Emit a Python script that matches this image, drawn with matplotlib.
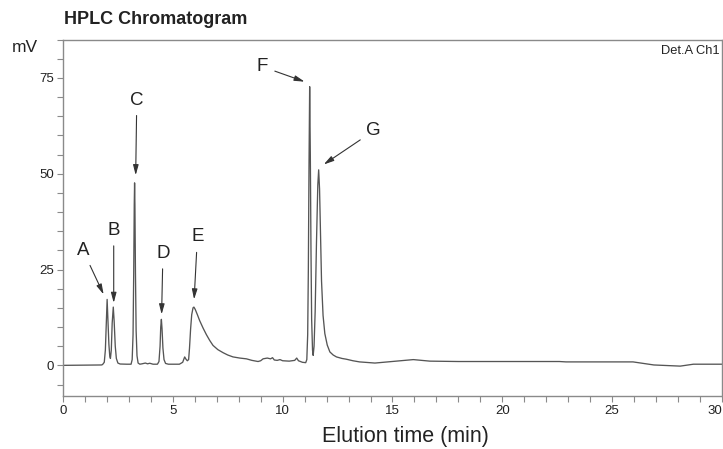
import matplotlib
matplotlib.use("Agg")
import matplotlib.pyplot as plt
from matplotlib.ticker import MultipleLocator

plt.rcParams['font.family'] = ['Liberation Sans', 'DejaVu Sans']

# chromatogram trace (min, mV)
time_min = [0.0, 1.0, 1.75, 1.80, 1.88, 1.93, 1.97, 2.01, 2.05, 2.09, 2.13, 2.16,
            2.20, 2.24, 2.29, 2.33, 2.38, 2.43, 2.50, 2.60, 2.90, 3.10, 3.15, 3.19,
            3.22, 3.245, 3.26, 3.275, 3.30, 3.33, 3.37, 3.42, 3.50, 3.60, 3.75, 3.85,
            3.95, 4.10, 4.30, 4.37, 4.42, 4.45, 4.48, 4.51, 4.55, 4.60, 4.67, 4.80,
            5.30, 5.45, 5.54, 5.60, 5.66, 5.72, 5.76, 5.81, 5.86, 5.92, 5.96, 6.02,
            6.12, 6.22, 6.38, 6.53, 6.68, 6.83, 7.05, 7.29, 7.50, 7.74, 8.05, 8.35,
            8.60, 8.88, 9.00, 9.11, 9.30, 9.45, 9.54, 9.62, 9.75, 9.88, 10.00, 10.30,
            10.55, 10.64, 10.72, 10.90, 11.05, 11.10, 11.14, 11.17, 11.20, 11.23, 11.26,
            11.29, 11.32, 11.36, 11.39, 11.43, 11.48, 11.54, 11.60, 11.64, 11.68, 11.73,
            11.77, 11.84, 11.92, 12.03, 12.15, 12.30, 12.45, 12.70, 12.90, 13.20, 13.50,
            14.20, 15.00, 15.95, 16.70, 18.00, 22.60, 22.90, 25.95, 26.30, 26.90, 28.10,
            28.70, 30.0]
signal_mv = [0.0, 0.05, 0.1, 0.2, 0.8, 4.0, 11.0, 17.2, 11.5, 5.5, 2.4, 1.8,
             4.0, 11.0, 15.2, 11.5, 5.0, 1.8, 0.6, 0.35, 0.3, 0.3, 1.5, 8.0,
             24.0, 42.0, 47.6, 42.0, 24.0, 9.0, 2.5, 0.6, 0.3, 0.4, 0.6, 0.4,
             0.55, 0.3, 0.3, 1.0, 5.0, 10.0, 12.0, 9.5, 4.5, 1.5, 0.5, 0.3,
             0.3, 0.8, 2.2, 1.6, 1.2, 1.5, 4.5, 9.5, 13.2, 15.0, 15.2, 14.6,
             13.2, 11.7, 9.7, 8.0, 6.5, 5.2, 4.1, 3.3, 2.7, 2.2, 1.9, 1.7,
             1.3, 1.0, 1.2, 1.7, 1.9, 1.7, 2.0, 1.4, 1.3, 1.5, 1.2, 1.1,
             1.3, 1.9, 1.2, 0.8, 0.7, 1.5, 8.0, 25.0, 52.0, 72.7, 55.0,
             30.0, 12.0, 4.0, 2.6, 5.0, 14.0, 32.0, 47.0, 51.0, 46.0, 33.0,
             22.0, 13.0, 8.3, 5.3, 3.5, 2.7, 2.2, 1.8, 1.6, 1.2, 0.9,
             0.6, 1.0, 1.5, 1.1, 1.0, 1.0, 0.9, 0.9, 0.6, 0.1, -0.2,
             0.3, 0.3]

x_ticks = [0, 5, 10, 15, 20, 25, 30]
y_ticks = [0, 25, 50, 75]

# peak labels: letter, arrow tip, text position (data coords)
peak_names = ['A', 'B', 'C', 'D', 'E', 'F', 'G']
tip_xy = [(1.85, 18.5), (2.31, 16.3), (3.31, 49.6), (4.49, 13.3),
          (5.97, 17.2), (11.0, 74.0), (11.87, 52.4)]
text_xy = [(0.91, 30.0), (2.31, 35.2), (3.36, 69.2), (4.55, 29.2),
           (6.12, 33.5), (9.08, 77.9), (14.15, 61.2)]

fig = plt.figure(figsize=(7.23, 4.49), dpi=100)
ax = fig.add_axes([0.0871, 0.118, 0.9115, 0.794])

ax.plot(time_min, signal_mv, color='#555555', lw=0.95)

for name, tip, txt in zip(peak_names, tip_xy, text_xy):
    ax.annotate(name, xy=tip, xytext=txt, fontsize=13.5, color='#222222',
                ha='center', va='center',
                arrowprops=dict(arrowstyle='-|>,head_length=0.45,head_width=0.12',
                                color='#333333', lw=0.8, shrinkA=3, shrinkB=0))

ax.set_xlim(0, 30)
ax.set_ylim(-8, 85)
ax.set_xticks(x_ticks)
ax.xaxis.set_minor_locator(MultipleLocator(1))
ax.set_yticks(y_ticks)
ax.yaxis.set_minor_locator(MultipleLocator(5))

for s in ax.spines.values():
    s.set_color('#8a8a8a')
    s.set_linewidth(1.0)
ax.tick_params(which='both', direction='out', length=4.5, width=0.8,
               color='#8a8a8a', pad=2, labelsize=9.5, labelcolor='#222222')
xlabels = ax.set_xticklabels([str(v) for v in x_ticks])
for lab in xlabels + ax.get_yticklabels():
    lab.set_family(['Liberation Sans Narrow', 'Liberation Sans'])
xlabels[-1].set_horizontalalignment('right')

ax.set_xlabel('Elution time (min)', fontsize=15.5, color='#222222')
ax.xaxis.set_label_coords(0.519, -0.084)

ax.text(0.997, 0.985, 'Det.A Ch1', transform=ax.transAxes, ha='right', va='top',
        fontsize=9.3, color='#222222')

fig.text(64 / 723, 1 - 20 / 449, 'HPLC Chromatogram', fontsize=13, fontweight='bold',
         color='#222222', ha='left', va='center')
fig.text(12 / 723, 1 - 47 / 449, 'mV', fontsize=12.5, color='#222222',
         ha='left', va='center')

fig.savefig('out.png', dpi=100)
